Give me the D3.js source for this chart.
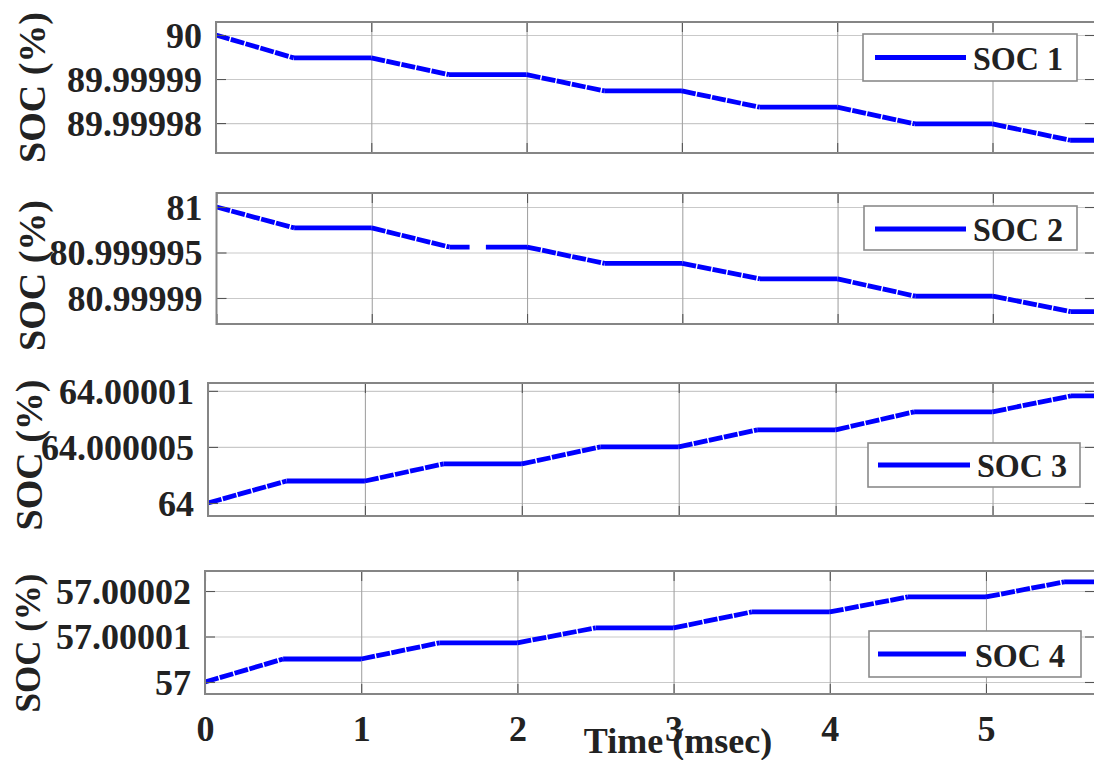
<!DOCTYPE html>
<html>
<head>
<meta charset="utf-8">
<script src="https://cdn.jsdelivr.net/npm/d3@7"></script>
<style>
  html, body { margin: 0; padding: 0; background: #fff; }
  svg { display: block; }
  text { font-family: "Liberation Serif", "Times New Roman", serif; font-weight: bold; fill: #222; }
</style>
</head>
<body>
<svg id="chart" width="1094" height="760"></svg>
<script>
// Corner times (ms) of the staircase state-of-charge traces
const timeMs = [0, 0.5, 1, 1.5, 2, 2.5, 3, 3.5, 4, 4.5, 5, 5.5, 5.8];

// State of charge (%) of each battery at those times
const soc1 = [90, 89.9999948, 89.9999948, 89.999991, 89.999991, 89.9999873, 89.9999873,
              89.9999836, 89.9999836, 89.9999798, 89.9999798, 89.9999761, 89.9999761];
const soc2 = [81, 80.9999977, 80.9999977, 80.9999956, 80.9999956, 80.9999938, 80.9999938,
              80.9999921, 80.9999921, 80.9999902, 80.9999902, 80.9999885, 80.9999885];
const soc3 = [64, 64.00000196, 64.00000196, 64.00000348, 64.00000348, 64.000005, 64.000005,
              64.00000652, 64.00000652, 64.00000813, 64.00000813, 64.00000955, 64.00000955];
const soc4 = [57, 57.00000505, 57.00000505, 57.0000086, 57.0000086, 57.0000119, 57.0000119,
              57.0000154, 57.0000154, 57.0000187, 57.0000187, 57.000022, 57.000022];

const seriesNames = ["SOC 1", "SOC 2", "SOC 3", "SOC 4"];

// Short sample dropouts in the logged traces (ms intervals)
const dropouts1 = [];
const dropouts2 = [[1.63, 1.735]];
const dropouts3 = [];
const dropouts4 = [];

// Axes
const xTicks = [0, 1, 2, 3, 4, 5];
const xTickLabels = ["0", "1", "2", "3", "4", "5"];
const xDomainEnd = [5.66, 5.658, 5.653, 5.698];

const yTicks1 = [90, 89.99999, 89.99998];
const yTickLabels1 = ["90", "89.99999", "89.99998"];
const yTicks2 = [81, 80.999995, 80.99999];
const yTickLabels2 = ["81", "80.999995", "80.99999"];
const yTicks3 = [64.00001, 64.000005, 64];
const yTickLabels3 = ["64.00001", "64.000005", "64"];
const yTicks4 = [57.00002, 57.00001, 57];
const yTickLabels4 = ["57.00002", "57.00001", "57"];

const yDomain1 = [89.9999732, 90.00000295];
const yDomain2 = [80.99998714, 81.00000154];
const yDomain3 = [63.99999884, 64.0000107];
const yDomain4 = [56.99999736, 57.0000244];

const yAxisTitle = "SOC (%)";
const xAxisTitle = "Time (msec)";

// ---------------------------------------------------------------
const series = [
  { values: soc1, name: seriesNames[0], ticks: yTicks1, labels: yTickLabels1, domain: yDomain1, gaps: dropouts1 },
  { values: soc2, name: seriesNames[1], ticks: yTicks2, labels: yTickLabels2, domain: yDomain2, gaps: dropouts2 },
  { values: soc3, name: seriesNames[2], ticks: yTicks3, labels: yTickLabels3, domain: yDomain3, gaps: dropouts3 },
  { values: soc4, name: seriesNames[3], ticks: yTicks4, labels: yTickLabels4, domain: yDomain4, gaps: dropouts4 }
];

// Subplot frames and legend placement (px)
const plotRight = 1095;
const frames = [
  { left: 216,   top: 22,  bottom: 153, title: { x: 45, y: 87.5, size: 38 },
    legend: { x: 863, y: 34,  w: 214, h: 47, lx1: 875, lx2: 966, ly: 57.5, tx: 973, ty: 70 } },
  { left: 216.5, top: 193, bottom: 324, title: { x: 45, y: 275.5, size: 38 },
    legend: { x: 864, y: 206, w: 213, h: 44, lx1: 875, lx2: 966, ly: 229, tx: 973, ty: 241 } },
  { left: 208,   top: 383, bottom: 516, title: { x: 42, y: 455, size: 38 },
    legend: { x: 868, y: 443, w: 212, h: 44, lx1: 878, lx2: 970, ly: 465, tx: 977, ty: 477 } },
  { left: 205,   top: 571, bottom: 694, title: { x: 40, y: 643, size: 35 },
    legend: { x: 869, y: 631, w: 212, h: 46, lx1: 878, lx2: 966, ly: 654, tx: 975, ty: 667 } }
];

const svg = d3.select("#chart");
const lineColor = "#0000ff";

// Split each trace into straight pieces, dropping the dropout intervals
function tracePieces(values, gaps) {
  const pieces = [];
  for (let i = 0; i < timeMs.length - 1; i++) {
    const t0 = timeMs[i], t1 = timeMs[i + 1];
    const v0 = values[i], v1 = values[i + 1];
    const at = t => v0 + (v1 - v0) * (t - t0) / (t1 - t0);
    let spans = [[t0, t1]];
    gaps.forEach(([g0, g1]) => {
      const next = [];
      spans.forEach(([a, b]) => {
        if (g1 <= a || g0 >= b) { next.push([a, b]); return; }
        if (g0 > a) next.push([a, g0]);
        if (g1 < b) next.push([g1, b]);
      });
      spans = next;
    });
    spans.forEach(([a, b]) => pieces.push({ ramp: v0 !== v1, pts: [[a, at(a)], [b, at(b)]] }));
  }
  return pieces;
}

series.forEach((s, k) => {
  const f = frames[k];
  const w = plotRight - f.left, h = f.bottom - f.top;
  const x = d3.scaleLinear().domain([0, xDomainEnd[k]]).range([f.left, plotRight]);
  const y = d3.scaleLinear().domain(s.domain).range([f.bottom, f.top]);
  const g = svg.append("g");

  const clipId = "clip" + k;
  svg.append("clipPath").attr("id", clipId)
    .append("rect").attr("x", f.left).attr("y", f.top).attr("width", w).attr("height", h);

  // horizontal grid
  g.append("g").attr("transform", `translate(${f.left},0)`)
    .call(d3.axisLeft(y).tickValues(s.ticks).tickSize(-w).tickFormat(""))
    .call(a => a.select(".domain").remove())
    .call(a => a.selectAll("line").attr("stroke", "#c9c9c9").attr("stroke-width", 1.2));

  // vertical grid
  g.append("g").attr("transform", `translate(0,${f.bottom})`)
    .call(d3.axisBottom(x).tickValues(xTicks.slice(1)).tickSize(-h).tickFormat(""))
    .call(a => a.select(".domain").remove())
    .call(a => a.selectAll("line").attr("stroke", "#a4a4a4").attr("stroke-width", 1.1));

  // trace
  const line = d3.line().x(d => x(d[0])).y(d => y(d[1]));
  g.append("g").attr("clip-path", `url(#${clipId})`)
    .selectAll("path").data(tracePieces(s.values, s.gaps)).join("path")
    .attr("d", d => line(d.pts))
    .attr("fill", "none")
    .attr("stroke", lineColor)
    .attr("stroke-width", 4.8)
    .attr("stroke-linecap", "butt")
    .attr("stroke-dasharray", d => d.ramp ? "14 1.4" : null);

  // inward tick marks on all four sides
  const tickStyle = a => {
    a.select(".domain").remove();
    a.selectAll("line").attr("stroke", "#555").attr("stroke-width", 1.1);
  };
  g.append("g").attr("transform", `translate(${f.left},0)`)
    .call(d3.axisLeft(y).tickValues(s.ticks).tickSize(-10).tickFormat("")).call(tickStyle);
  g.append("g").attr("transform", `translate(${plotRight},0)`)
    .call(d3.axisRight(y).tickValues(s.ticks).tickSize(-10).tickFormat("")).call(tickStyle);
  g.append("g").attr("transform", `translate(0,${f.top})`)
    .call(d3.axisTop(x).tickValues(xTicks).tickSize(-10).tickFormat("")).call(tickStyle);
  g.append("g").attr("transform", `translate(0,${f.bottom})`)
    .call(d3.axisBottom(x).tickValues(xTicks).tickSize(-10).tickFormat("")).call(tickStyle);

  // frame
  g.append("rect")
    .attr("x", f.left).attr("y", f.top).attr("width", w).attr("height", h)
    .attr("fill", "none").attr("stroke", "#858585").attr("stroke-width", 2);

  // y tick labels
  g.append("g").attr("transform", `translate(${f.left},0)`)
    .call(d3.axisLeft(y).tickValues(s.ticks).tickSize(0).tickPadding(14)
      .tickFormat((d, i) => s.labels[i]))
    .call(a => a.select(".domain").remove())
    .call(a => a.selectAll("text")
      .attr("font-family", null).attr("font-size", 36).attr("dy", "0.34em").attr("fill", "#222"));

  // y title
  g.append("text")
    .attr("transform", `translate(${f.title.x},${f.title.y}) rotate(-90)`)
    .attr("text-anchor", "middle")
    .attr("font-size", f.title.size)
    .text(yAxisTitle);

  // legend
  const L = f.legend;
  const lg = g.append("g");
  lg.append("rect").attr("x", L.x).attr("y", L.y).attr("width", L.w).attr("height", L.h)
    .attr("fill", "#fff").attr("stroke", "#8a8a8a").attr("stroke-width", 1.6);
  lg.append("line").attr("x1", L.lx1).attr("x2", L.lx2).attr("y1", L.ly).attr("y2", L.ly)
    .attr("stroke", lineColor).attr("stroke-width", 5);
  lg.append("text").attr("x", L.tx).attr("y", L.ty)
    .attr("font-size", 33)
    .attr("textLength", 90).attr("lengthAdjust", "spacingAndGlyphs")
    .attr("fill", "#111")
    .text(s.name);

  // time labels on the bottom subplot only
  if (k === series.length - 1) {
    g.append("g").attr("transform", `translate(0,${f.bottom})`)
      .call(d3.axisBottom(x).tickValues(xTicks).tickSize(0).tickPadding(21)
        .tickFormat((d, i) => xTickLabels[i]))
      .call(a => a.select(".domain").remove())
      .call(a => a.selectAll("text")
        .attr("font-family", null).attr("font-size", 36).attr("fill", "#222"));

    g.append("text")
      .attr("x", 678).attr("y", 753)
      .attr("text-anchor", "middle")
      .attr("font-size", 36)
      .text(xAxisTitle);
  }
});
</script>
</body>
</html>
